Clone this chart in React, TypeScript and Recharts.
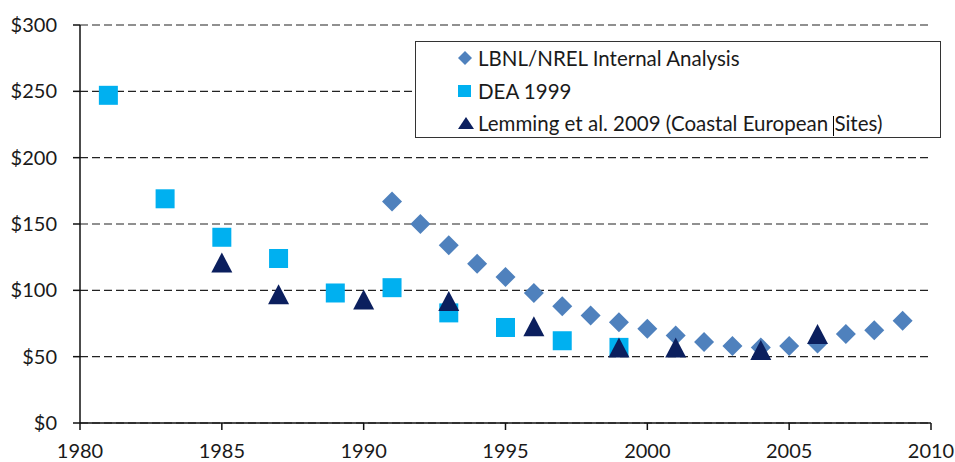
import React from "react";
import {
  ScatterChart,
  Scatter,
  XAxis,
  YAxis,
  CartesianGrid,
  Legend
} from "recharts";

const LBNL_NAME = "LBNL/NREL Internal Analysis";
const LBNL_YEARS = [1991, 1992, 1993, 1994, 1995, 1996, 1997, 1998, 1999, 2000, 2001, 2002, 2003, 2004, 2005, 2006, 2007, 2008, 2009];
const LBNL_COST = [167, 150, 134, 120, 110, 98, 88, 81, 76, 71, 66, 61, 58, 57, 58, 60, 67, 70, 77];

const DEA_NAME = "DEA 1999";
const DEA_YEARS = [1981, 1983, 1985, 1987, 1989, 1991, 1993, 1995, 1997, 1999];
const DEA_COST = [247, 169, 140, 124, 98, 102, 83, 72, 62, 57];

const LEMMING_NAME = "Lemming et al. 2009 (Coastal European Sites)";
const LEMMING_YEARS = [1985, 1987, 1990, 1993, 1996, 1999, 2001, 2004, 2006];
const LEMMING_COST = [121, 97, 93, 92, 73, 57, 57, 55, 67];

const X_TICKS = [1980, 1985, 1990, 1995, 2000, 2005, 2010];
const Y_TICKS = [0, 50, 100, 150, 200, 250, 300];

const zip = (xs: number[], ys: number[]) => xs.map((x, i) => ({ year: x, cost: ys[i] }));

const lbnlData = zip(LBNL_YEARS, LBNL_COST);
const deaData = zip(DEA_YEARS, DEA_COST);
const lemmingData = zip(LEMMING_YEARS, LEMMING_COST);

const BLUE = "#4F81BD";
const CYAN = "#00B0F0";
const NAVY = "#0B1F5E";
const FONT = "Lato, 'Open Sans', sans-serif";

const Diamond = (p: any) => {
  const { cx, cy } = p;
  const r = 10;
  return <polygon points={`${cx},${cy - r} ${cx + r},${cy} ${cx},${cy + r} ${cx - r},${cy}`} fill={BLUE} />;
};

const Square = (p: any) => {
  const { cx, cy } = p;
  const s = 19;
  return <rect x={cx - s / 2} y={cy - s / 2} width={s} height={s} fill={CYAN} />;
};

const Triangle = (p: any) => {
  const { cx, cy } = p;
  const w = 21;
  const h = 20;
  return (
    <polygon
      points={`${cx},${cy - h / 2} ${cx + w / 2},${cy + h / 2} ${cx - w / 2},${cy + h / 2}`}
      fill={NAVY}
    />
  );
};

const LegendBox = () => {
  const row: React.CSSProperties = {
    display: "flex",
    alignItems: "center",
    height: 32.5,
    whiteSpace: "nowrap"
  };
  return (
    <div
      style={{
        width: 526,
        height: 97,
        border: "1px solid #333",
        background: "#fff",
        boxSizing: "border-box",
        paddingLeft: 42,
        paddingTop: 0,
        fontFamily: FONT,
        fontSize: 20.5,
        color: "#1a1a1a"
      }}
    >
      <div style={row}>
        <svg width={20} height={14}>
          <polygon points="7,0 14,7 7,14 0,7" fill={BLUE} />
        </svg>
        <span>{LBNL_NAME}</span>
      </div>
      <div style={row}>
        <svg width={20} height={14}>
          <rect x={0} y={1} width={13} height={12} fill={CYAN} />
        </svg>
        <span>{DEA_NAME}</span>
      </div>
      <div style={row}>
        <svg width={20} height={14}>
          <polygon points="8,1 16,13 0,13" fill={NAVY} />
        </svg>
        <span>
          Lemming et al. 2009 (Coastal European{" "}
          <span
            style={{
              display: "inline-block",
              width: 0,
              height: 20,
              borderLeft: "1px solid #000",
              verticalAlign: "-5px"
            }}
          />
          Sites)
        </span>
      </div>
    </div>
  );
};

export default function App() {
  return (
    <div style={{ position: "absolute", left: 0, top: 0, background: "#fff" }}>
      <ScatterChart
        width={955}
        height={462}
        margin={{ top: 25, right: 24, bottom: 0, left: 0 }}
      >
        <CartesianGrid
          vertical={false}
          stroke="#222"
          strokeDasharray="8 4"
          strokeWidth={1.2}
        />
        <XAxis
          type="number"
          dataKey="year"
          domain={[1980, 2010]}
          ticks={X_TICKS}
          height={39}
          tickSize={7}
          tickMargin={14}
          axisLine={{ stroke: "#111", strokeWidth: 1.5 }}
          tickLine={{ stroke: "#111", strokeWidth: 1.5 }}
          tick={{ fill: "#1a1a1a", fontSize: 20, fontFamily: FONT }}
          allowDataOverflow
        />
        <YAxis
          type="number"
          dataKey="cost"
          domain={[0, 300]}
          ticks={Y_TICKS}
          width={80}
          tickSize={7}
          tickMargin={16}
          tickFormatter={(v: number) => `$${v}`}
          axisLine={{ stroke: "#111", strokeWidth: 1.5 }}
          tickLine={{ stroke: "#111", strokeWidth: 1.5 }}
          tick={{ fill: "#1a1a1a", fontSize: 20, fontFamily: FONT }}
          allowDataOverflow
        />
        <Legend
          layout="vertical"
          align="center"
          verticalAlign="middle"
          wrapperStyle={{ left: 415, top: 41, width: 526, height: 97 }}
          content={() => <LegendBox />}
        />
        <Scatter name={LBNL_NAME} data={lbnlData} shape={Diamond} isAnimationActive={false} />
        <Scatter name={DEA_NAME} data={deaData} shape={Square} isAnimationActive={false} />
        <Scatter name={LEMMING_NAME} data={lemmingData} shape={Triangle} isAnimationActive={false} />
      </ScatterChart>
    </div>
  );
}
